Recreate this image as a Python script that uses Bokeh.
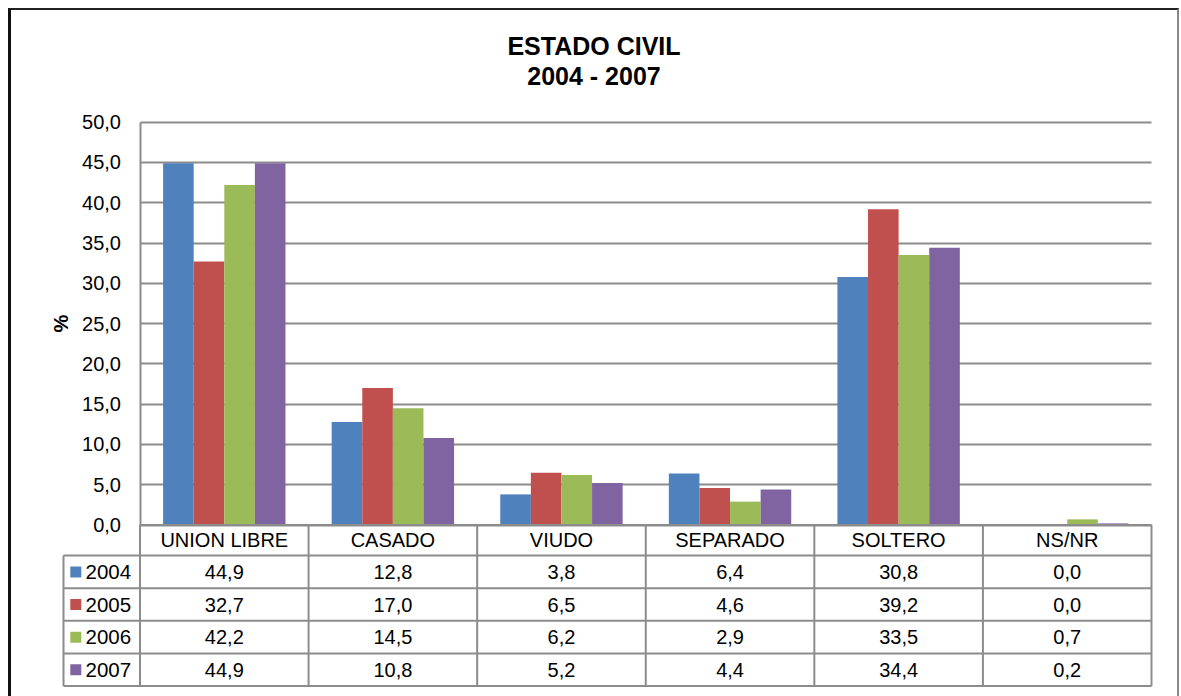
import math
from bokeh.plotting import figure
from bokeh.models import (ColumnDataSource, Range1d, FixedTicker,
                          CustomJSTickFormatter, Label, Grid)
from bokeh.layouts import column
from bokeh.transform import dodge
from bokeh.core.properties import value
from bokeh.embed import file_html
from bokeh.resources import INLINE

# ---------------- data ----------------
categories = ["UNION LIBRE", "CASADO", "VIUDO", "SEPARADO", "SOLTERO", "NS/NR"]
years = ["2004", "2005", "2006", "2007"]
v2004 = [44.9, 12.8, 3.8, 6.4, 30.8, 0.0]
v2005 = [32.7, 17.0, 6.5, 4.6, 39.2, 0.0]
v2006 = [42.2, 14.5, 6.2, 2.9, 33.5, 0.7]
v2007 = [44.9, 10.8, 5.2, 4.4, 34.4, 0.2]
y_ticks = [0, 5, 10, 15, 20, 25, 30, 35, 40, 45, 50]
title_lines = ["ESTADO CIVIL", "2004 - 2007"]
y_label = "%"

series = [v2004, v2005, v2006, v2007]
colors = ["#4F81BD", "#C0504D", "#9BBB59", "#8064A2"]

# ---------------- layout constants (page pixels) ----------------
FONT = "Liberation Sans"
GRAY = "#8c8c8c"
ORG_X, ORG_Y = 11, 10          # page position of the figure (after css margin + border)
FIG_W, FIG_H = 1166, 686
PX0, PY0 = 139.5, 524.5        # page position of data (0, 0)
SX = 1011.5 / 6.0              # px per category
SY = 402.8 / 50.0              # px per unit

fx0 = PX0 - ORG_X
fy0 = PY0 - ORG_Y
x_start = -fx0 / SX
x_end = (FIG_W - fx0) / SX
y_end = fy0 / SY
y_start = -(FIG_H - fy0) / SY

def dx(px):   # page x -> data x
    return (px - PX0) / SX

def dy(py):   # page y -> data y
    return (PY0 - py) / SY

BW = 30.6 / SX                 # bar width
HEADER_H = 3.8
ROW_H = 4.05
LEG_LEFT = dx(63)

def fmt(v):
    return f"{v:.1f}".replace(".", ",")

centers = [i + 0.5 for i in range(len(categories))]
src = ColumnDataSource(dict(x=centers, **{yr: vals for yr, vals in zip(years, series)}))

p = figure(width=FIG_W, height=FIG_H, x_range=Range1d(x_start, x_end),
           y_range=Range1d(y_start, y_end), output_backend="svg",
           toolbar_location=None, min_border=0,
           min_border_left=0, min_border_right=0, min_border_top=0,
           min_border_bottom=0)
p.outline_line_color = None
p.background_fill_color = "white"
p.border_fill_color = "white"

# axes
p.xaxis.visible = False
p.xgrid.visible = False
ax = p.yaxis[0]
ax.fixed_location = 0
ax.bounds = (0, 50)
ax.ticker = FixedTicker(ticks=y_ticks)
ax.formatter = CustomJSTickFormatter(code="return tick.toFixed(1).replace('.', ',')")
ax.axis_line_color = GRAY
ax.axis_line_width = 2
ax.major_tick_out = 0
ax.major_tick_in = 0
ax.minor_tick_out = 0
ax.minor_tick_in = 0
ax.major_label_standoff = 19
ax.major_label_text_font = FONT
ax.major_label_text_font_size = "20px"
ax.major_label_text_color = "black"

g = p.ygrid[0]
g.ticker = FixedTicker(ticks=y_ticks)
g.grid_line_color = GRAY
g.grid_line_width = 2
if "cross_bounds" in Grid.properties():
    g.cross_bounds = (0, 6)
else:
    g.visible = False
    p.segment(x0=0, x1=6, y0=y_ticks, y1=y_ticks, line_color=GRAY, line_width=2,
              level="underlay")

# bars
for k, yr in enumerate(years):
    p.vbar(x=dodge("x", (k - 1.5) * BW), top=yr, bottom=0, width=BW, source=src,
           fill_color=colors[k], line_color=None)

# data table
row_bounds = [0.0, -HEADER_H] + [-HEADER_H - ROW_H * (i + 1) for i in range(len(years))]
hx0 = [0] + [LEG_LEFT] * (len(row_bounds) - 1)
p.segment(x0=hx0, x1=[6] * len(row_bounds), y0=row_bounds, y1=row_bounds,
          line_color=GRAY, line_width=2)
vx = [LEG_LEFT] + list(range(len(categories) + 1))
vy0 = [-HEADER_H] + [0.0] * (len(categories) + 1)
p.segment(x0=vx, x1=vx, y0=vy0, y1=[row_bounds[-1]] * len(vx),
          line_color=GRAY, line_width=2)

p.text(x=centers, y=[-HEADER_H / 2] * len(categories), text=categories,
       text_align="center", text_baseline="middle", text_font=value(FONT),
       text_font_size="20px", text_color="black")
row_centers = [-HEADER_H - ROW_H * (i + 0.5) for i in range(len(years))]
for i, vals in enumerate(series):
    p.text(x=centers, y=[row_centers[i]] * len(vals), text=[fmt(v) for v in vals],
           text_align="center", text_baseline="middle", text_font=value(FONT),
           text_font_size="20px", text_color="black")

p.scatter(x=[dx(75.3)] * len(years), y=row_centers, marker="square", size=11,
          fill_color=colors, line_color=None)
p.text(x=[dx(85)] * len(years), y=row_centers, text=years, text_align="left",
       text_baseline="middle", text_font=value(FONT), text_font_size="20.5px",
       text_color="black")

# titles
for line, py in zip(title_lines, [45.5, 75.5]):
    p.add_layout(Label(x=dx(593.5), y=dy(py), text=line, text_align="center",
                       text_baseline="middle", text_font=FONT,
                       text_font_size="25px", text_font_style="bold",
                       text_color="black"))
p.add_layout(Label(x=dx(60), y=25, text=y_label, angle=math.pi / 2,
                   text_align="center", text_baseline="middle", text_font=FONT,
                   text_font_size="20px", text_font_style="bold",
                   text_color="black"))

layout = column(p, styles={"margin-left": "8px", "margin-top": "8px",
                           "border-left": "3px solid #111111",
                           "border-top": "2px solid #222222",
                           "border-right": "2px solid #888888"})

open("out.html", "w").write(file_html(layout, INLINE))
